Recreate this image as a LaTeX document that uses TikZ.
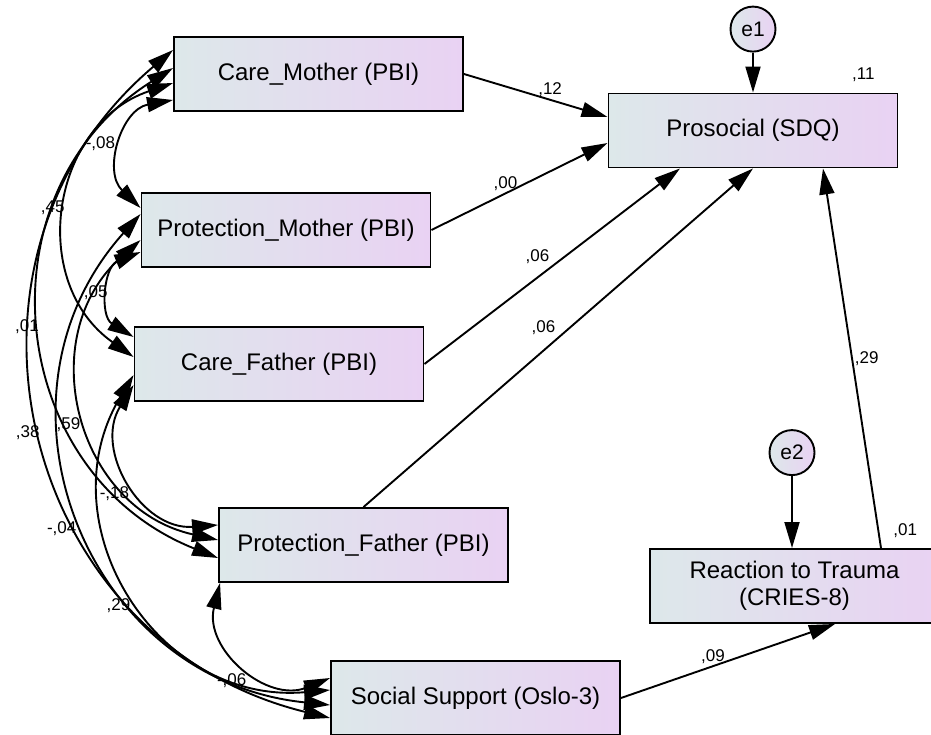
\documentclass[tikz,border=0pt]{standalone}
\usepackage{fontspec}
\setmainfont{Liberation Sans}
\usetikzlibrary{arrows.meta, positioning}

\definecolor{boxleft}{RGB}{221,232,234}
\definecolor{boxright}{RGB}{233,210,243}

\begin{document}
\begin{tikzpicture}[x=1pt, y=-1pt, >={Triangle[length=26pt, width=15pt]}, line width=1.9pt]
        \tikzstyle{var} = [rectangle, draw, left color=boxleft, right color=boxright, minimum width=289pt, minimum height=74pt, inner sep=0pt, align=center, font=\fontsize{24}{27}\selectfont]
        \tikzstyle{err} = [circle, draw, left color=boxleft, right color=boxright, minimum size=45pt, inner sep=0pt, font=\fontsize{21}{24}\selectfont]
        \tikzstyle{cov} = [<->]
        \tikzstyle{lbl} = [inner sep=2pt, font=\fontsize{17}{19}\selectfont]
        \tikzstyle{arc} = [bend right=63, looseness=1.2]

        \useasboundingbox (0,0) rectangle (931,735);

        \node [var] (caremother) at (318.5,74) {Care\_Mother (PBI)};
        \node [var] (protmother) at (286,230) {Protection\_Mother (PBI)};
        \node [var] (carefather) at (279,364) {Care\_Father (PBI)};
        \node [var] (protfather) at (363.5,545) {Protection\_Father (PBI)};
        \node [var] (social) at (475.5,698) {Social Support (Oslo-3)};
        \node [var] (prosocial) at (753,130.5) {Prosocial (SDQ)};
        \node [var] (trauma) at (794.5,586) {Reaction to Trauma\\(CRIES-8)};

        \node [err, above=40pt of prosocial] (e1) {e1};
        \node [err, above=72pt of trauma, xshift=-2.5pt] (e2) {e2};
        \node [lbl, above left=8pt and 21pt of prosocial.north east] (r2pro) {,11};
        \node [lbl, above left=7pt and 20pt of trauma.north east] (r2trauma) {,01};

        \draw [->] (e1) -- (prosocial);
        \draw [->] (e2) -- (e2 |- trauma.north);
        \draw [->] (caremother.east) -- node [lbl, pos=0.6, above] {,12} ([yshift=13.5pt]prosocial.west);
        \draw [->] (protmother.east) -- node [lbl, pos=0.42, above] {,00} ([yshift=-12.5pt]prosocial.west);
        \draw [->] (carefather.east) -- node [lbl, pos=0.5, above left] {,06} ([xshift=-73pt]prosocial.south);
        \draw [->] (protfather.north) -- node [lbl, pos=0.5, above left] {,06} (prosocial.south);
        \draw [->] ([xshift=86.5pt]trauma.north) -- node [lbl, pos=0.5, right] {,29} ([xshift=70pt]prosocial.south);
        \draw [->] (social.east) -- node [lbl, pos=0.43, above] {,09} ([xshift=40.5pt]trauma.south);

        \draw [cov] ([yshift=-26pt]caremother.west) to [arc] node [lbl, left=5pt] {-,08} ([yshift=22pt]protmother.west);
        \draw [cov] ([yshift=-9pt]caremother.west) to [arc] node [lbl, left] {,45} ([yshift=7pt]carefather.west);
        \draw [cov] ([yshift=6pt]caremother.west) to [arc] node [lbl, left] {,01} ([yshift=-13pt]protfather.west);
        \draw [cov] ([yshift=24pt]caremother.west) to [arc] node [lbl, left] {,38} ([yshift=-20pt]social.west);
        \draw [cov] ([yshift=-22pt]protmother.west) to [arc] node [lbl, left] {,05} ([yshift=27pt]carefather.west);
        \draw [cov] ([yshift=-10pt]protmother.west) to [arc] node [lbl, below left=0pt and 2pt] {,59} ([yshift=5pt]protfather.west);
        \draw [cov] ([yshift=16pt]protmother.west) to [arc] node [lbl, below left=0pt and 2pt] {-,04} ([yshift=-7pt]social.west);
        \draw [cov] ([yshift=-21pt]carefather.west) to [arc] node [lbl, below left=2pt and 0pt] {-,18} ([yshift=20pt]protfather.west);
        \draw [cov] ([yshift=-11pt]carefather.west) to [arc] node [lbl, below left=2pt and 0pt] {,29} ([yshift=8pt]social.west);
        \draw [cov] ([xshift=2pt]protfather.south west) to [arc] node [lbl, below left=6pt and -4pt] {-,06} ([yshift=20pt]social.west);
    \end{tikzpicture}
\end{document}
